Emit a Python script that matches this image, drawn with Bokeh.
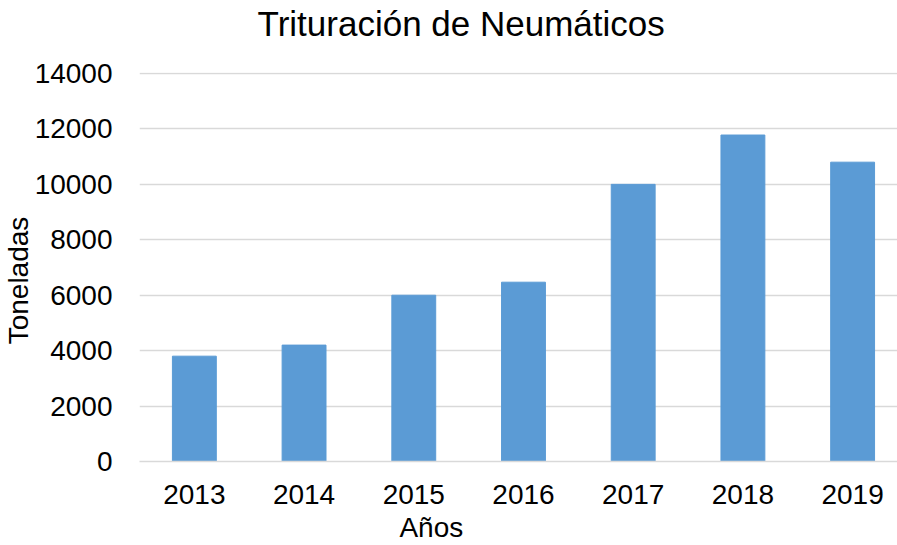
from bokeh.plotting import figure
from bokeh.models import Range1d, FixedTicker, LinearAxis
from bokeh.embed import file_html
from bokeh.resources import INLINE

# ---- data ----
years = ["2013", "2014", "2015", "2016", "2017", "2018", "2019"]
toneladas = [3800, 4200, 6000, 6470, 10000, 11780, 10800]
y_ticks = [0, 2000, 4000, 6000, 8000, 10000, 12000, 14000]
title_text = "Trituración de Neumáticos"
x_label = "Años"
y_label = "Toneladas"

positions = list(range(len(years)))

W, H = 897, 545
B_LEFT, B_RIGHT, B_TOP, B_BOTTOM = 137, 0, 72, 84
frame_w = W - B_LEFT - B_RIGHT
cat_w = 110.0
x_start = -0.5
x_end = x_start + frame_w / cat_w
y_end = 14000 * 389 / 388

FONT = "Liberation Sans"

p = figure(width=W, height=H, output_backend="svg", toolbar_location=None,
           x_range=Range1d(x_start, x_end), y_range=Range1d(0, y_end),
           min_border_left=B_LEFT, min_border_right=B_RIGHT,
           min_border_top=B_TOP, min_border_bottom=B_BOTTOM,
           background_fill_color="white", border_fill_color="white")
p.outline_line_color = None
p.title.text = ""
p.title.standoff = 0

xax = p.xaxis[0]
yax = p.yaxis[0]

p.vbar(x=positions, top=toneladas, width=0.4, color="#5b9bd5", line_color="#5b9bd5")

# grid
p.xgrid.visible = False
p.ygrid.ticker = FixedTicker(ticks=y_ticks)
p.ygrid.grid_line_color = "#d9d9d9"
p.ygrid.grid_line_width = 1.3

# y axis
yax.ticker = FixedTicker(ticks=y_ticks)
yax.axis_line_color = None
yax.major_tick_line_color = None
yax.minor_tick_line_color = None
yax.major_label_standoff = 21
yax.major_label_text_font = FONT
yax.major_label_text_font_size = "28px"
yax.major_label_text_color = "black"

# x axis
xax.ticker = FixedTicker(ticks=positions)
xax.major_label_overrides = {i: y for i, y in zip(positions, years)}
xax.axis_line_color = "#d9d9d9"
xax.axis_line_width = 1.3
xax.major_tick_line_color = None
xax.minor_tick_line_color = None
xax.major_label_standoff = 17
xax.major_label_text_font = FONT
xax.major_label_text_font_size = "28px"
xax.major_label_text_color = "black"

def text_axis(tick, text, standoff, size, orientation="horizontal"):
    return LinearAxis(ticker=FixedTicker(ticks=[tick]),
                      major_label_overrides={tick: text},
                      major_label_orientation=orientation,
                      axis_line_color=None, major_tick_line_color=None,
                      minor_tick_line_color=None, major_label_standoff=standoff,
                      major_label_text_font=FONT, major_label_text_font_size=size,
                      major_label_text_color="black")

# chart title (centred where the reference has it, above the plot area)
title_pos = 2.432
p.add_layout(text_axis(title_pos, title_text, 24, "35px"), "above")

# y-axis title
y_label_pos = 6530
p.add_layout(text_axis(y_label_pos, y_label, -9, "28px", "vertical"), "left")

# x-axis title
x_label_pos = 2.16
p.add_layout(text_axis(x_label_pos, x_label, -1, "28px"), "below")

open("out.html", "w").write(file_html(p, INLINE))
